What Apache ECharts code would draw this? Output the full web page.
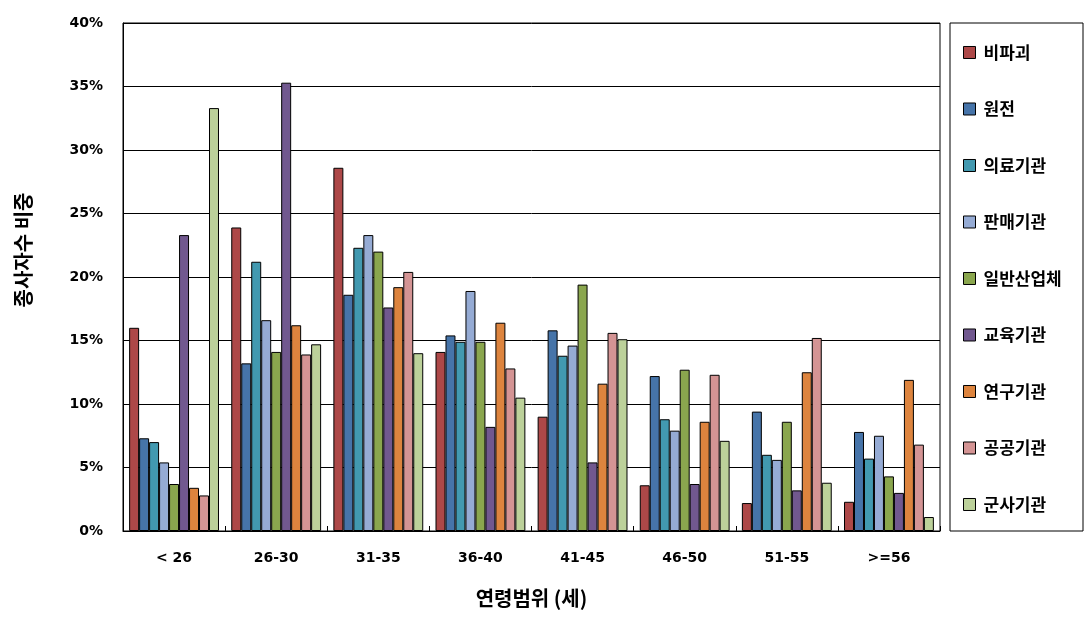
<!DOCTYPE html>
<html><head><meta charset="utf-8">
<script src="https://cdn.jsdelivr.net/npm/echarts@6/dist/echarts.min.js"></script>
<style>html,body{margin:0;padding:0;background:#fff}#c{width:1088px;height:626px}</style>
</head><body><div id="c"></div>
<script>
const categories = ['< 26','26-30','31-35','36-40','41-45','46-50','51-55','>=56'];
const seriesNames = ['비파괴','원전','의료기관','판매기관','일반산업체','교육기관','연구기관','공공기관','군사기관'];
const 비파괴 = [16.0, 23.9, 28.6, 14.1, 9.0, 3.6, 2.2, 2.3];
const 원전 = [7.3, 13.2, 18.6, 15.4, 15.8, 12.2, 9.4, 7.8];
const 의료기관 = [7.0, 21.2, 22.3, 14.9, 13.8, 8.8, 6.0, 5.7];
const 판매기관 = [5.4, 16.6, 23.3, 18.9, 14.6, 7.9, 5.6, 7.5];
const 일반산업체 = [3.7, 14.1, 22.0, 14.9, 19.4, 12.7, 8.6, 4.3];
const 교육기관 = [23.3, 35.3, 17.6, 8.2, 5.4, 3.7, 3.2, 3.0];
const 연구기관 = [3.4, 16.2, 19.2, 16.4, 11.6, 8.6, 12.5, 11.9];
const 공공기관 = [2.8, 13.9, 20.4, 12.8, 15.6, 12.3, 15.2, 6.8];
const 군사기관 = [33.3, 14.7, 14.0, 10.5, 15.1, 7.1, 3.8, 1.1];
const yTicks = [0,5,10,15,20,25,30,35,40];
const values = [비파괴, 원전, 의료기관, 판매기관, 일반산업체, 교육기관, 연구기관, 공공기관, 군사기관];
const colors = ['#AD4848','#4674A9','#4299B0','#95ABD4','#8AA64E','#71588F','#DD843E','#D49494','#BCD19A'];

const chart = echarts.init(document.getElementById('c'), null, {renderer:'canvas'});
chart.setOption({
  animation:false,
  backgroundColor:'#fff',
  color: colors,
  grid:{left:123,right:148,top:23,bottom:95,show:true,borderColor:'#000',borderWidth:1,backgroundColor:'transparent'},
  graphic:[{type:'rect',shape:{x:950,y:23,width:133,height:508},style:{fill:'none',stroke:'#000',lineWidth:1},silent:true}],
  legend:{
    orient:'vertical', left:958, top:39, itemGap:39.5,
    itemWidth:12, itemHeight:12, icon:'rect',
    itemStyle:{borderColor:'#000',borderWidth:1},
    textStyle:{fontFamily:'Noto Sans CJK KR',fontWeight:'bold',fontSize:17,color:'#000',padding:[0,0,0,3]},
    data: seriesNames
  },
  xAxis:{
    type:'category', data:categories,
    name:'연령범위 (세)', nameLocation:'middle', nameGap:57,
    nameTextStyle:{fontFamily:'Noto Sans CJK KR',fontWeight:'bold',fontSize:20,color:'#000'},
    axisLine:{lineStyle:{color:'#000',width:1}},
    axisTick:{show:true,inside:true,length:5,lineStyle:{color:'#000'}},
    axisLabel:{fontFamily:'DejaVu Sans',fontWeight:'bold',fontSize:14,color:'#000',margin:20}
  },
  yAxis:{
    type:'value', min:0, max:40, interval:5,
    name:'종사자수 비중', nameLocation:'middle', nameGap:90, nameRotate:90,
    nameTextStyle:{fontFamily:'Noto Sans CJK KR',fontWeight:'bold',fontSize:20,color:'#000',padding:[0,0,0,54]},
    axisLine:{show:true,lineStyle:{color:'#000'}},
    axisTick:{show:false},
    splitLine:{lineStyle:{color:'#000',width:1}},
    axisLabel:{fontFamily:'DejaVu Sans',fontWeight:'bold',fontSize:14,color:'#000',margin:20,
      formatter:v=> yTicks.includes(v) ? v+'%' : ''}
  },
  series: seriesNames.map((n,i)=>({
    name:n, type:'bar', data:values[i],
    barGap:'0%', barCategoryGap:'12%',
    itemStyle:{color:colors[i],borderColor:'#000',borderWidth:1}
  }))
});
</script></body></html>
